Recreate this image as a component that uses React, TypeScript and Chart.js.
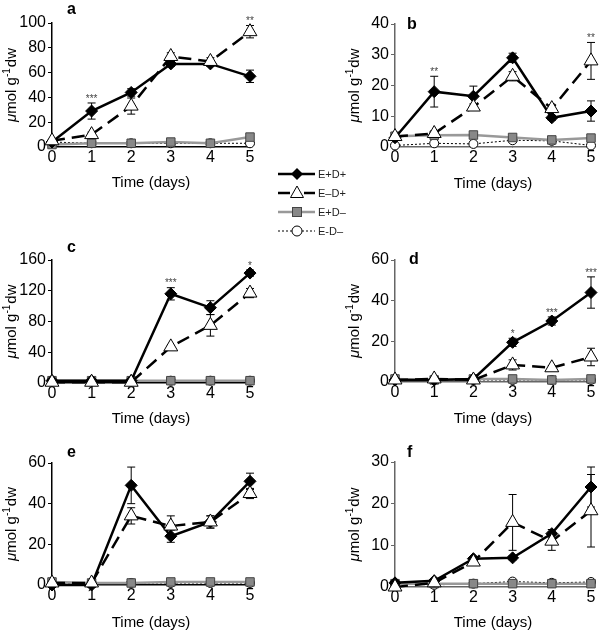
import React, { useEffect, useRef } from 'react';
import { Chart, registerables } from 'chart.js';
Chart.register(...registerables);

const days = [0, 1, 2, 3, 4, 5];
const seriesLabels = ['E+D+', 'E–D+', 'E+D–', 'E-D–'];
const yTitleParts = ['μ', 'mol g', '-1', 'dw'];
const xTitle = 'Time (days)';

// Panel a
const aEpDp = [4, 29, 44, 67, 67, 57];
const aEpDpErr = [1, 6.5, 3, 2, 2, 5];
const aEmDp = [5, 10, 33, 73, 69, 93];
const aEmDpErr = [1, 2, 6.5, 3, 3, 5];
const aEpDm = [2, 3, 3, 4, 3, 8];
const aEmDm = [4, 3, 3, 3, 3, 3];
const aStars = ['', '***', '', '', '', '**'];

// Panel b
const bEpDp = [3, 18, 16.5, 29, 9.5, 11.7];
const bEpDpErr = [0.5, 5, 3.3, 1.5, 0.8, 3.3];
const bEmDp = [3.4, 4.4, 13, 23, 12.5, 28];
const bEmDpErr = [0.5, 0.8, 1, 1.5, 1, 6];
const bEpDm = [3.5, 3.8, 3.9, 3.1, 2.3, 2.9];
const bEmDm = [0.5, 1.2, 1, 2.2, 2, 0.5];
const bStars = ['', '**', '', '', '', '**'];

// Panel c
const cEpDp = [3, 3, 3, 116, 98, 143];
const cEpDpErr = [0.5, 0.5, 0.5, 8, 9, 4];
const cEmDp = [1, 1, 1, 47, 75, 117];
const cEmDpErr = [0.5, 0.5, 0.5, 2, 14, 6];
const cEpDm = [3, 3, 3, 3, 3, 3];
const cEmDm = [3, 3, 3, 3, 3, 3];
const cStars = ['', '', '', '***', '', '*'];

// Panel d
const dEpDp = [1, 1, 1.5, 19.5, 30, 44];
const dEpDpErr = [0.5, 1, 1, 2, 2, 7.7];
const dEmDp = [1, 1.5, 1, 8.4, 7, 12.3];
const dEmDpErr = [0.5, 1, 0.8, 2.5, 1, 4.3];
const dEpDm = [1.5, 1, 1.5, 1.5, 1, 1.5];
const dEmDm = [1, 1, 1, 1, 1, 1];
const dStars = ['', '', '', '*', '***', '***'];

// Panel e
const eEpDp = [0, 0, 49, 24, 31, 51];
const eEpDpErr = [0.5, 0.5, 9, 3, 3, 4];
const eEmDp = [1, 1, 34, 29, 31, 45];
const eEmDpErr = [0.5, 0.5, 4, 5, 3, 2.5];
const eEpDm = [1.5, 1, 1, 1.5, 1.5, 1.5];
const eEmDm = [1, 1, 1, 1, 1, 1];
const eStars = ['', '', '', '', '', ''];

// Panel f
const fEpDp = [1, 1.5, 6.8, 7, 12.8, 24];
const fEpDpErr = [0.3, 0.3, 0.5, 0.5, 1, 4.8];
const fEmDp = [0, 1, 6, 15.5, 11, 18.3];
const fEmDpErr = [0.3, 0.3, 0.5, 6.7, 2.2, 8.7];
const fEpDm = [0.8, 0.8, 0.8, 0.8, 0.8, 0.8];
const fEmDm = [0.8, 0.5, 0.8, 1.3, 1, 1.2];
const fStars = ['', '', '', '', '', ''];

const FONT = '"Liberation Sans", Arial, sans-serif';

type PanelCfg = {
  letter: string;
  left: number; top: number; width: number; height: number;
  l: number; r: number; t: number; b: number;
  yMax: number; yStep: number;
  axisColor: string;
  letterDx: number; letterDy: number;
  vals: number[][]; errs: (number[] | null)[];
  stars: string[];
};

const panels: PanelCfg[] = [
  { letter: 'a', left: 0, top: 0, width: 262, height: 195, l: 52, r: 250, t: 23, b: 147, yMax: 100, yStep: 20, axisColor: '#000', letterDx: 15, letterDy: -13,
    vals: [aEpDp, aEmDp, aEpDm, aEmDm], errs: [aEpDpErr, aEmDpErr, null, null], stars: aStars },
  { letter: 'b', left: 343, top: 0, width: 257, height: 196, l: 52, r: 249, t: 24, b: 147, yMax: 40, yStep: 10, axisColor: '#666', letterDx: 12, letterDy: 1,
    vals: [bEpDp, bEmDp, bEpDm, bEmDm], errs: [bEpDpErr, bEmDpErr, null, null], stars: bStars },
  { letter: 'c', left: 0, top: 220, width: 262, height: 211, l: 52, r: 250, t: 40, b: 163, yMax: 160, yStep: 40, axisColor: '#000', letterDx: 15, letterDy: -12,
    vals: [cEpDp, cEmDp, cEpDm, cEmDm], errs: [cEpDpErr, cEmDpErr, null, null], stars: cStars },
  { letter: 'd', left: 343, top: 220, width: 257, height: 211, l: 52, r: 249, t: 40, b: 162, yMax: 60, yStep: 20, axisColor: '#666', letterDx: 14, letterDy: 0,
    vals: [dEpDp, dEmDp, dEpDm, dEmDm], errs: [dEpDpErr, dEmDpErr, null, null], stars: dStars },
  { letter: 'e', left: 0, top: 440, width: 262, height: 195, l: 52, r: 250, t: 23, b: 145, yMax: 60, yStep: 20, axisColor: '#000', letterDx: 15, letterDy: -10,
    vals: [eEpDp, eEmDp, eEpDm, eEmDm], errs: [eEpDpErr, eEmDpErr, null, null], stars: eStars },
  { letter: 'f', left: 343, top: 440, width: 257, height: 195, l: 52, r: 249, t: 22, b: 147, yMax: 30, yStep: 10, axisColor: '#666', letterDx: 12, letterDy: -9,
    vals: [fEpDp, fEmDp, fEpDm, fEmDm], errs: [fEpDpErr, fEmDpErr, null, null], stars: fStars },
];

const errorBarPlugin = {
  id: 'errorBars',
  beforeDatasetsDraw(chart: any) {
    const ctx = chart.ctx;
    const y = chart.scales.y;
    ctx.save();
    ctx.strokeStyle = '#000';
    ctx.lineWidth = 1;
    chart.data.datasets.forEach((ds: any, di: number) => {
      if (!ds.errors) return;
      const meta = chart.getDatasetMeta(di);
      meta.data.forEach((pt: any, i: number) => {
        const v = ds.data[i].y;
        const e = ds.errors[i];
        const yt = y.getPixelForValue(v + e);
        const yb = y.getPixelForValue(Math.max(0, v - e));
        ctx.beginPath();
        ctx.moveTo(pt.x, yt); ctx.lineTo(pt.x, yb);
        ctx.moveTo(pt.x - 4, yt); ctx.lineTo(pt.x + 4, yt);
        ctx.moveTo(pt.x - 4, yb); ctx.lineTo(pt.x + 4, yb);
        ctx.stroke();
      });
    });
    ctx.restore();
  },
};

const annotPlugin = {
  id: 'annot',
  afterDatasetsDraw(chart: any, _args: any, opts: any) {
    const ctx = chart.ctx;
    const y = chart.scales.y;
    const x = chart.scales.x;
    const area = chart.chartArea;
    ctx.save();
    // significance stars
    ctx.fillStyle = '#444';
    ctx.font = `10px ${FONT}`;
    ctx.textAlign = 'center';
    ctx.textBaseline = 'middle';
    (opts.stars || []).forEach((s: string, i: number) => {
      if (!s) return;
      let top = Infinity;
      chart.data.datasets.forEach((ds: any) => {
        const v = ds.data[i].y + (ds.errors ? ds.errors[i] : 0);
        top = Math.min(top, y.getPixelForValue(v));
      });
      ctx.fillText(s, x.getPixelForValue(days[i]), top - 4);
    });
    // panel letter
    ctx.fillStyle = '#000';
    ctx.font = `bold 16px ${FONT}`;
    ctx.textAlign = 'left';
    ctx.fillText(opts.letter, area.left + opts.dx, area.top + opts.dy);
    // y-axis title with italic mu and superscript
    const fonts = [`italic 15px ${FONT}`, `15px ${FONT}`, `10px ${FONT}`, `15px ${FONT}`];
    const shifts = [0, 0, -5, 0];
    const gaps = [0, 0, 1, 0];
    let total = 0;
    const widths = yTitleParts.map((p, i) => { ctx.font = fonts[i]; const w = ctx.measureText(p).width + gaps[i]; total += w; return w; });
    ctx.translate(area.left - 40, (area.top + area.bottom) / 2);
    ctx.rotate(-Math.PI / 2);
    ctx.textAlign = 'left';
    ctx.textBaseline = 'middle';
    let cx = -total / 2;
    yTitleParts.forEach((p, i) => {
      ctx.font = fonts[i];
      ctx.fillText(p, cx, shifts[i]);
      cx += widths[i];
    });
    ctx.restore();
  },
};

function Panel({ cfg }: { cfg: PanelCfg }) {
  const ref = useRef<HTMLCanvasElement>(null);
  useEffect(() => {
    const tickFont = { family: FONT, size: 16 };
    const titleFont = { family: FONT, size: 15 };
    const mk = (vals: number[]) => days.map((d, i) => ({ x: d, y: vals[i] }));
    const chart = new Chart(ref.current as HTMLCanvasElement, {
      type: 'line',
      data: {
        datasets: [
          { label: seriesLabels[0], data: mk(cfg.vals[0]), errors: cfg.errs[0], borderColor: '#000', borderWidth: 2.5,
            pointStyle: 'rectRot', pointRadius: 6, pointBackgroundColor: '#000', pointBorderColor: '#000', pointBorderWidth: 1, order: 1, clip: false } as any,
          { label: seriesLabels[1], data: mk(cfg.vals[1]), errors: cfg.errs[1], borderColor: '#000', borderWidth: 2.5, borderDash: [13, 7],
            pointStyle: 'triangle', pointRadius: 8, pointBackgroundColor: '#fff', pointBorderColor: '#000', pointBorderWidth: 1, order: 0, clip: false } as any,
          { label: seriesLabels[2], data: mk(cfg.vals[2]), borderColor: '#999', borderWidth: 2.5,
            pointStyle: 'rect', pointRadius: 6, pointBackgroundColor: '#888', pointBorderColor: '#444', pointBorderWidth: 1, order: 2, clip: false } as any,
          { label: seriesLabels[3], data: mk(cfg.vals[3]), borderColor: '#000', borderWidth: 1, borderDash: [2, 2],
            pointStyle: 'circle', pointRadius: 4.5, pointBackgroundColor: '#fff', pointBorderColor: '#000', pointBorderWidth: 1, order: 3, clip: false } as any,
        ],
      },
      options: {
        responsive: false,
        animation: false,
        events: [],
        layout: { padding: { left: 0, top: cfg.t, right: cfg.width - cfg.r, bottom: 0 } },
        plugins: {
          legend: { display: false },
          tooltip: { enabled: false },
          annot: { stars: cfg.stars, letter: cfg.letter, dx: cfg.letterDx, dy: cfg.letterDy },
        } as any,
        scales: {
          x: {
            type: 'linear', min: 0, max: 5,
            ticks: { stepSize: 1, color: '#000', font: tickFont, padding: 0 },
            grid: { display: true, drawOnChartArea: false, tickLength: 1, color: cfg.axisColor },
            border: { color: cfg.axisColor, width: 1.5 },
            title: { display: true, text: xTitle, color: '#000', font: titleFont, padding: { top: 0, bottom: 3 } },
            afterFit: (s: any) => { s.height = cfg.height - cfg.b; },
          },
          y: {
            min: 0, max: cfg.yMax,
            ticks: { stepSize: cfg.yStep, color: '#000', font: tickFont, padding: 2 },
            grid: { display: true, drawOnChartArea: false, tickLength: 4, color: cfg.axisColor },
            border: { color: cfg.axisColor, width: 1.5 },
            title: { display: false },
            afterFit: (s: any) => { s.width = cfg.l; },
          },
        } as any,
      },
      plugins: [errorBarPlugin, annotPlugin],
    });
    return () => chart.destroy();
  }, []);
  return (
    <canvas ref={ref} width={cfg.width} height={cfg.height}
      style={{ position: 'absolute', left: cfg.left, top: cfg.top, width: cfg.width, height: cfg.height }} />
  );
}

function Legend() {
  const rows = [10, 29, 48, 67];
  const tf = { fontFamily: '"Liberation Sans Narrow", "Liberation Sans", Arial, sans-serif', fontSize: 11, fill: '#222' };
  return (
    <svg width={90} height={80} style={{ position: 'absolute', left: 270, top: 164 }}>
      <line x1={8} x2={45} y1={rows[0]} y2={rows[0]} stroke="#000" strokeWidth={2.5} />
      <polygon points={`27,${rows[0] - 6} 33,${rows[0]} 27,${rows[0] + 6} 21,${rows[0]}`} fill="#000" />
      <text x={48} y={rows[0] + 4} style={tf as any}>{seriesLabels[0]}</text>

      <line x1={8} x2={20} y1={rows[1]} y2={rows[1]} stroke="#000" strokeWidth={2.5} />
      <line x1={34} x2={45} y1={rows[1]} y2={rows[1]} stroke="#000" strokeWidth={2.5} />
      <polygon points={`27,${rows[1] - 7} 33.5,${rows[1] + 4.5} 20.5,${rows[1] + 4.5}`} fill="#fff" stroke="#000" strokeWidth={1} />
      <text x={48} y={rows[1] + 4} style={tf as any}>{seriesLabels[1]}</text>

      <line x1={8} x2={45} y1={rows[2]} y2={rows[2]} stroke="#999" strokeWidth={2.5} />
      <rect x={22.5} y={rows[2] - 4.5} width={9} height={9} fill="#888" stroke="#444" strokeWidth={1} />
      <text x={48} y={rows[2] + 4} style={tf as any}>{seriesLabels[2]}</text>

      <line x1={8} x2={45} y1={rows[3]} y2={rows[3]} stroke="#000" strokeWidth={1} strokeDasharray="2 2" />
      <circle cx={27} cy={rows[3]} r={5} fill="#fff" stroke="#000" strokeWidth={1} />
      <text x={48} y={rows[3] + 4} style={tf as any}>{seriesLabels[3]}</text>
    </svg>
  );
}

export default function App() {
  return (
    <div style={{ position: 'absolute', left: 0, top: 0, width: 600, height: 633, overflow: 'hidden', background: '#fff' }}>
      {panels.map((p) => <Panel key={p.letter} cfg={p} />)}
      <Legend />
    </div>
  );
}
